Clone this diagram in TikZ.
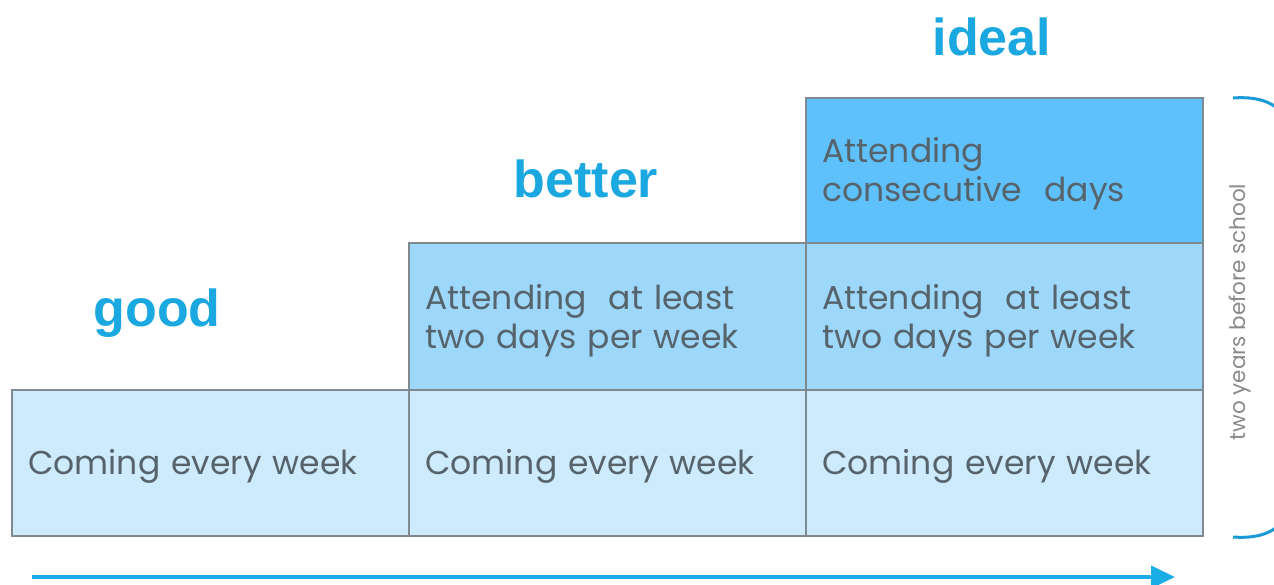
\documentclass[tikz,border=0pt]{standalone}
\usepackage{fontspec}
\setmainfont{Poppins}
\newfontfamily\labelfont{Liberation Sans}
\usetikzlibrary{arrows.meta}
\definecolor{rowA}{HTML}{CDEBFC}
\definecolor{rowB}{HTML}{9DD7FA}
\definecolor{rowC}{HTML}{5FC1FB}
\definecolor{cellborder}{HTML}{7F8A90}
\definecolor{bodytext}{HTML}{56636B}
\definecolor{headblue}{HTML}{1BA8E0}
\definecolor{arrowblue}{HTML}{1AACE6}
\definecolor{bracketblue}{HTML}{1A9BD7}
\definecolor{sidegray}{HTML}{8A8A8A}
\tikzset{
  cell/.style={draw=cellborder, line width=1.6pt, anchor=north west,
    minimum width=397pt, inner sep=0pt},
  celltext/.style={anchor=west, text width=363pt, inner xsep=17pt, inner ysep=0pt,
    align=left, text=bodytext, font=\fontsize{33}{39}\selectfont},
  heading/.style={text=headblue, font=\labelfont\bfseries\fontsize{52}{56}\selectfont, inner sep=0pt},
}
\begin{document}
\begin{tikzpicture}[x=1pt,y=-1pt]
\useasboundingbox (0,0) rectangle (1274,585);
% bottom row
\node[cell, fill=rowA, minimum height=146pt] (g1) at (11,389) {};
\node[cell, fill=rowA, minimum height=146pt] (b1) at (408,389) {};
\node[cell, fill=rowA, minimum height=146pt] (i1) at (805,389) {};
% middle row
\node[cell, fill=rowB, minimum height=147pt] (b2) at (408,242) {};
\node[cell, fill=rowB, minimum height=147pt] (i2) at (805,242) {};
% top row
\node[cell, fill=rowC, minimum height=145pt] (i3) at (805,97) {};
% cell texts
\node[celltext] (g1t) at ([yshift=-4pt]g1.west) {Coming every week};
\node[celltext] (b1t) at ([yshift=-4pt]b1.west) {Coming every week};
\node[celltext] (i1t) at ([yshift=-4pt]i1.west) {Coming every week};
\node[celltext] (b2t) at ([yshift=-4pt]b2.west) {Attending\ \ at least\\two days per week};
\node[celltext] (i2t) at ([yshift=-4pt]i2.west) {Attending\ \ at least\\two days per week};
\node[celltext] (i3t) at ([yshift=-3pt]i3.west) {Attending\\consecutive\ \ days};
% headings
\node[heading] (good) at (157,313) {good};
\node[heading] (better) at (586,179) {better};
\node[heading] (ideal) at (992,37) {ideal};
% side label
\node[rotate=90, text=sidegray, font=\fontsize{21.5}{24}\selectfont, inner sep=0pt] (side) at (1240,312) {two years before school};
% bracket
\begin{scope}
\clip (1200,0) rectangle (1274,585);
\draw[bracketblue, line width=3pt] (1233,98) .. controls (1262,96) and (1280,104) .. (1290,125);
\draw[bracketblue, line width=3pt] (1233,537) .. controls (1262,539) and (1280,531) .. (1290,510);
\end{scope}
% arrow
\coordinate (arrS) at (32,577);
\coordinate (arrE) at (1175,577);
\draw[arrowblue, line width=4pt, -{Triangle[length=24pt,width=22pt]}] (arrS) -- (arrE);
\end{tikzpicture}
\end{document}
